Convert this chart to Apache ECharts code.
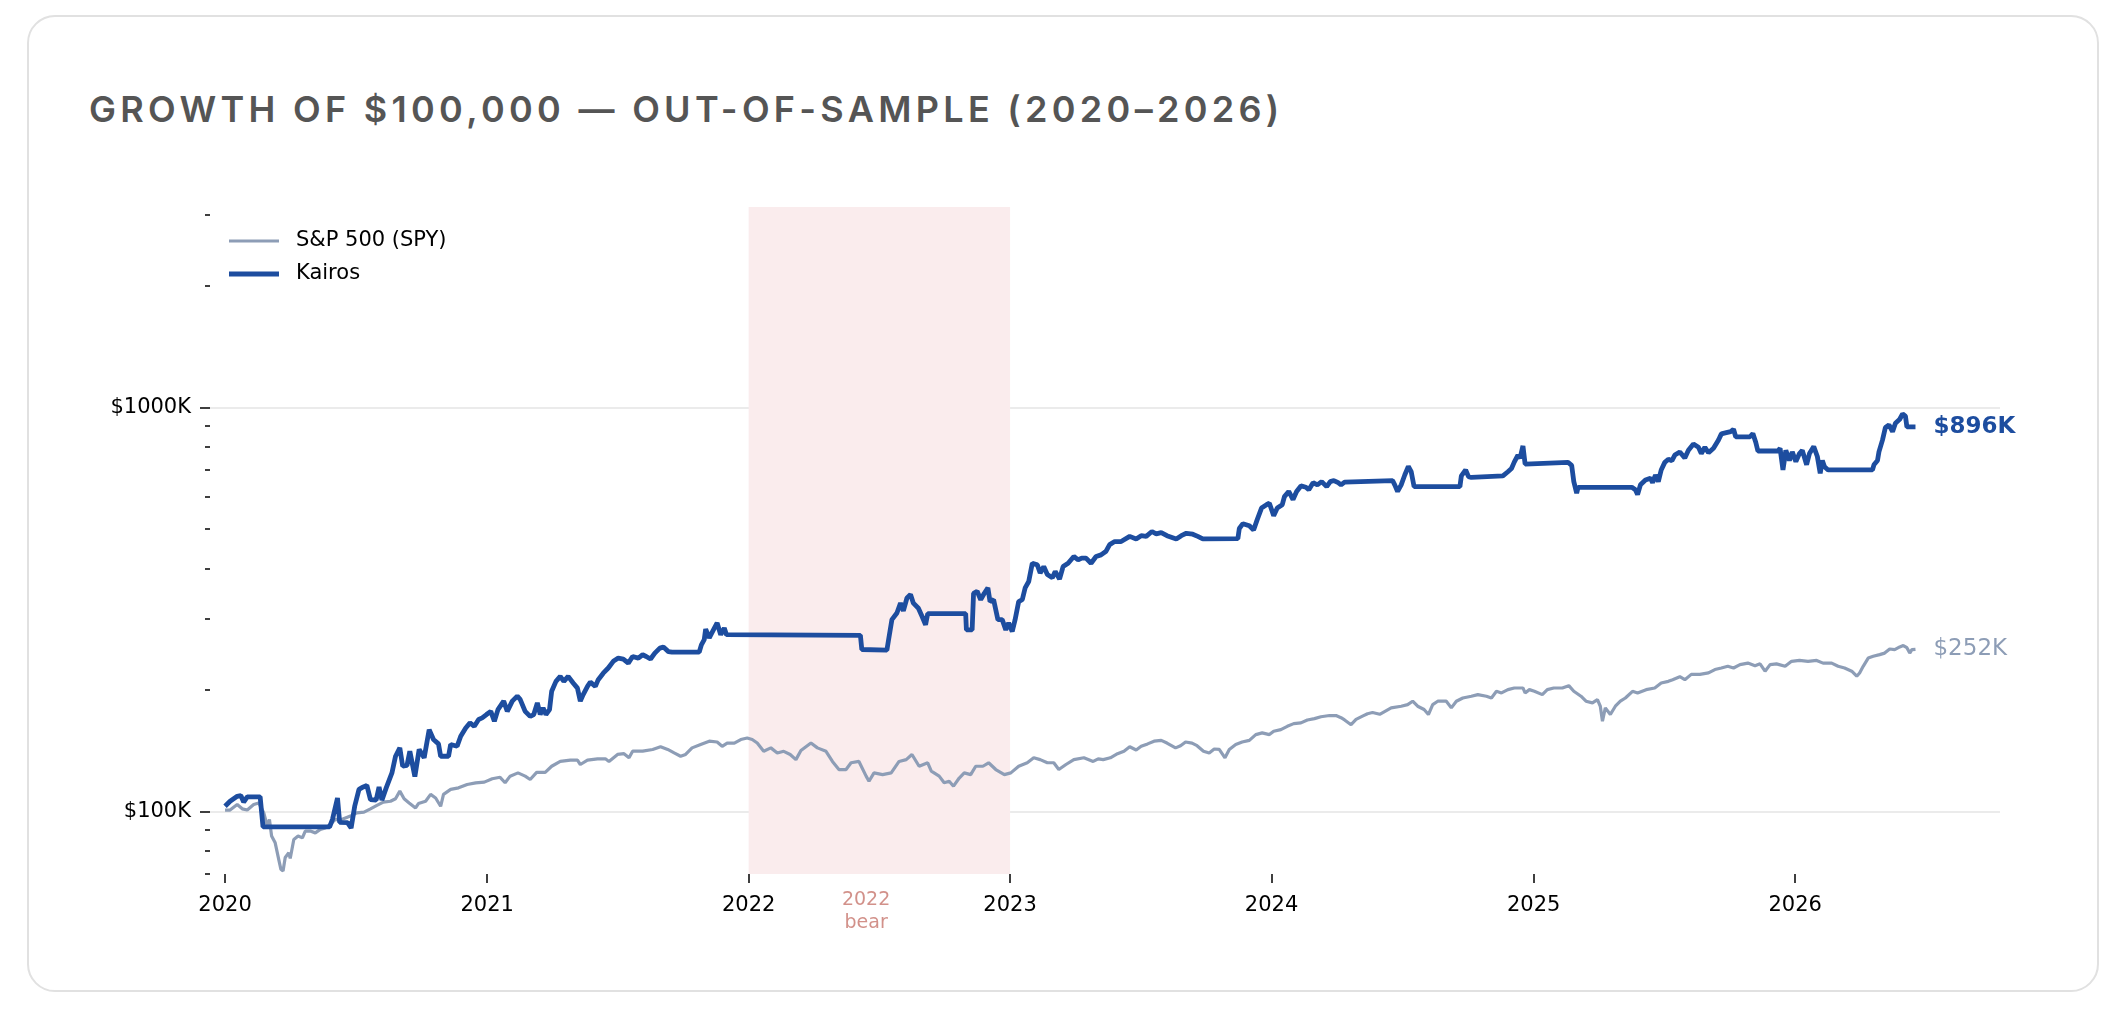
<!DOCTYPE html>
<html>
<head>
<meta charset="utf-8">
<script src="https://cdn.jsdelivr.net/npm/echarts@6/dist/echarts.min.js"></script>
<style>
  html, body { margin: 0; padding: 0; background: #ffffff; width: 2128px; height: 1032px; overflow: hidden; }
  .card { position: absolute; left: 27px; top: 15px; width: 2072px; height: 977px; box-sizing: border-box;
          border: 2px solid #e1e1e1; border-radius: 28px; background: #fff; }
  .title { position: absolute; left: 89px; top: 91px; font-family: Inter, "Noto Sans", sans-serif; font-weight: 600;
           font-size: 36px; line-height: 36px; letter-spacing: 4.3px; color: #555555; white-space: nowrap; }
  #chart { position: absolute; left: 0; top: 0; width: 2128px; height: 1032px; }
</style>
</head>
<body>
<div class="card"></div>
<div class="title">GROWTH OF $100,000 — OUT-OF-SAMPLE (2020–2026)</div>
<div id="chart"></div>
<script>
// ---------- data (values in $K) ----------
const yearTicks = ['2020', '2021', '2022', '2023', '2024', '2025', '2026'];
const yMajorTicks = [100, 1000];
const yMinorTicks = [70, 80, 90, 200, 300, 400, 500, 600, 700, 800, 900, 2000, 3000];
const xRange = ['2019-12-11', '2026-10-14'];
const bearStart = '2022-01-01';
const bearEnd = '2023-01-01';
const bearLabelDate = '2022-06-14';
const bearLabelLines = ['2022', 'bear'];

const kairosDates = [
'2020-01-01','2020-01-08','2020-01-18','2020-01-23','2020-01-27','2020-02-01','2020-02-19','2020-02-23','2020-05-26','2020-05-30',
'2020-06-06','2020-06-09','2020-06-20','2020-06-25','2020-06-30','2020-07-06','2020-07-12','2020-07-17','2020-07-22','2020-07-30',
'2020-08-03','2020-08-07','2020-08-13','2020-08-21','2020-08-26','2020-09-01','2020-09-05','2020-09-11','2020-09-15','2020-09-22',
'2020-09-28','2020-10-05','2020-10-12','2020-10-18','2020-10-25','2020-10-28','2020-11-08','2020-11-11','2020-11-20','2020-11-25',
'2020-12-02','2020-12-08','2020-12-14','2020-12-20','2020-12-25','2020-12-31','2021-01-06','2021-01-11','2021-01-16','2021-01-24',
'2021-01-29','2021-02-05','2021-02-12','2021-02-16','2021-02-23','2021-03-02','2021-03-07','2021-03-12','2021-03-16','2021-03-20',
'2021-03-24','2021-03-29','2021-04-01','2021-04-07','2021-04-13','2021-04-18','2021-04-24','2021-05-01','2021-05-07','2021-05-11',
'2021-05-15','2021-05-21','2021-05-25','2021-06-01','2021-06-05','2021-06-12','2021-06-19','2021-06-26','2021-07-03','2021-07-10',
'2021-07-17','2021-07-23','2021-07-31','2021-08-06','2021-08-11','2021-08-17','2021-08-23','2021-08-30','2021-09-04','2021-09-11',
'2021-09-16','2021-10-24','2021-10-27','2021-10-31','2021-11-02','2021-11-07','2021-11-13','2021-11-18','2021-11-23','2021-11-28',
'2021-12-01','2022-06-06','2022-06-08','2022-07-13','2022-07-15','2022-07-20','2022-07-27','2022-08-01','2022-08-05','2022-08-10',
'2022-08-15','2022-08-19','2022-08-26','2022-08-31','2022-09-05','2022-09-08','2022-10-31','2022-11-01','2022-11-09','2022-11-11',
'2022-11-16','2022-11-21','2022-11-26','2022-12-01','2022-12-04','2022-12-09','2022-12-15','2022-12-21','2022-12-26','2022-12-30',
'2023-01-04','2023-01-08','2023-01-13','2023-01-18','2023-01-22','2023-01-27','2023-02-01','2023-02-08','2023-02-12','2023-02-17',
'2023-02-22','2023-03-01','2023-03-05','2023-03-11','2023-03-16','2023-03-23','2023-03-31','2023-04-06','2023-04-11','2023-04-17',
'2023-04-24','2023-05-01','2023-05-08','2023-05-15','2023-05-20','2023-05-27','2023-06-05','2023-06-17','2023-06-26','2023-07-03',
'2023-07-10','2023-07-18','2023-07-24','2023-07-31','2023-08-08','2023-08-21','2023-08-28','2023-09-04','2023-09-13','2023-09-20',
'2023-09-27','2023-11-15','2023-11-17','2023-11-22','2023-12-01','2023-12-07','2023-12-12','2023-12-18','2023-12-25','2023-12-29',
'2024-01-04','2024-01-09','2024-01-16','2024-01-19','2024-01-25','2024-01-31','2024-02-05','2024-02-11','2024-02-18','2024-02-22',
'2024-02-28','2024-03-05','2024-03-11','2024-03-18','2024-03-23','2024-03-28','2024-04-03','2024-04-07','2024-04-12','2024-06-18',
'2024-06-21','2024-06-25','2024-06-30','2024-07-05','2024-07-10','2024-07-14','2024-07-18','2024-07-20','2024-09-20','2024-09-22',
'2024-09-28','2024-10-02','2024-10-06','2024-11-19','2024-11-26','2024-12-01','2024-12-05','2024-12-10','2024-12-13','2024-12-17',
'2024-12-19','2024-12-20','2025-02-18','2025-02-23','2025-02-26','2025-03-02','2025-03-04','2025-05-18','2025-05-23','2025-05-26',
'2025-05-30','2025-06-06','2025-06-13','2025-06-16','2025-06-20','2025-06-24','2025-06-28','2025-07-03','2025-07-08','2025-07-13',
'2025-07-17','2025-07-24','2025-07-31','2025-08-05','2025-08-12','2025-08-19','2025-08-23','2025-08-28','2025-09-02','2025-09-09',
'2025-09-16','2025-09-20','2025-09-27','2025-10-03','2025-10-07','2025-10-10','2025-10-30','2025-11-03','2025-11-07','2025-11-10',
'2025-12-08','2025-12-11','2025-12-15','2025-12-19','2025-12-24','2025-12-28','2026-01-02','2026-01-07','2026-01-11','2026-01-17',
'2026-01-21','2026-01-27','2026-02-01','2026-02-05','2026-02-08','2026-02-11','2026-02-16','2026-04-19','2026-04-21','2026-04-26',
'2026-04-28','2026-05-03','2026-05-07','2026-05-12','2026-05-17','2026-05-21','2026-05-27','2026-05-31','2026-06-04','2026-06-06',
'2026-06-18'
];
const kairosValues = [
103,106,109,109.5,105.5,108.7,108.7,91.6,91.6,95.6,
108,94,93.8,91,103,113.4,115,116,107,106.7,
115,106.7,114.4,124.6,137,143.7,129.4,130,141,122,
142.4,135.8,159.5,150.7,147,137,137,146.5,145,153.6,
161,165.7,162.5,169,170.5,173.8,177,167.3,178.7,187.6,
177,187.6,193,189.5,177,172,173.8,185.7,173.8,180.5,
173.8,178.7,198.5,210,216,210,216,208,202,187.6,
194.8,204,209,204,212,220,226.6,235.4,239.8,238.5,
233,242,239.8,244.4,242,238.5,246.7,253.8,255.3,248.8,
248,248,258.6,266.4,283,269,282,293,274,284.5,
274,273,251.8,251,263.9,298.5,310,328,314,337.8,
344.5,328,318.7,304.3,290,309,309,281.7,281.7,347,
351,334.5,347,357.7,331,334.5,298.5,298.5,281.7,292.9,
279,298.5,331,334.5,357.7,371,411.7,408,389.4,404,
386,379,393,376,404,411.7,428,420,424,424,
411.7,428,432,441,458,466,466,480,473,482,
480,493.5,487,490.5,482,473,482,488.5,486,480,
473,474,502,516,510,497.7,528,564,575,580,
540,564,575,602,620,592,620,640,635,626,
652,644,656,637.5,656,660,652,644,654,660,
644,620,644,681,715,694,637.5,632,637.5,677.5,
701,675,672,677.5,694,707,734,763,750,804,
804,725,732,720,656,614,635,635,626,609,
644,662,669,652,681,656,701,732,745,739,
763,777,750,784,813,798,770,798,773,793,
832,861,867,872,884,847,847,863,821,781,
781,793,701,784,740,777,735,770,784,722,
770,801,757,688,740,714,701,701,722,740,
777,832,893,906,872,915,936,965,953,896,
896
];

const spyDates = [
'2020-01-01','2020-01-08','2020-01-18','2020-01-25','2020-02-01','2020-02-10','2020-02-17','2020-02-24','2020-02-29','2020-03-03',
'2020-03-06','2020-03-11','2020-03-16','2020-03-19','2020-03-22','2020-03-25','2020-03-30','2020-04-01','2020-04-06','2020-04-12',
'2020-04-18','2020-04-22','2020-04-29','2020-05-06','2020-05-13','2020-05-20','2020-05-27','2020-06-03','2020-06-10','2020-06-24',
'2020-07-03','2020-07-13','2020-07-22','2020-07-31','2020-08-09','2020-08-19','2020-08-26','2020-09-01','2020-09-07','2020-09-14',
'2020-09-23','2020-09-27','2020-10-07','2020-10-14','2020-10-21','2020-10-28','2020-11-01','2020-11-11','2020-11-22','2020-12-04',
'2020-12-16','2020-12-28','2021-01-08','2021-01-19','2021-01-26','2021-02-02','2021-02-13','2021-02-23','2021-03-02','2021-03-11',
'2021-03-23','2021-04-01','2021-04-13','2021-04-27','2021-05-07','2021-05-11','2021-05-21','2021-06-04','2021-06-15','2021-06-20',
'2021-07-02','2021-07-11','2021-07-18','2021-07-23','2021-08-06','2021-08-20','2021-08-31','2021-09-10','2021-09-19','2021-09-28',
'2021-10-05','2021-10-14','2021-10-26','2021-11-07','2021-11-18','2021-11-25','2021-12-02','2021-12-12','2021-12-21','2021-12-30',
'2022-01-06','2022-01-13','2022-01-22','2022-02-01','2022-02-10','2022-02-19','2022-02-28','2022-03-08','2022-03-15','2022-03-29',
'2022-04-07','2022-04-19','2022-04-28','2022-05-07','2022-05-17','2022-05-24','2022-06-04','2022-06-14','2022-06-18','2022-06-25',
'2022-07-07','2022-07-19','2022-07-30','2022-08-09','2022-08-17','2022-08-27','2022-09-08','2022-09-13','2022-09-24','2022-10-01',
'2022-10-08','2022-10-14','2022-10-22','2022-10-29','2022-11-07','2022-11-14','2022-11-24','2022-12-02','2022-12-12','2022-12-24',
'2023-01-02','2023-01-13','2023-01-25','2023-02-03','2023-02-12','2023-02-22','2023-03-03','2023-03-10','2023-03-20','2023-03-31',
'2023-04-14','2023-04-27','2023-05-04','2023-05-11','2023-05-21','2023-05-31','2023-06-09','2023-06-17','2023-06-26','2023-07-03',
'2023-07-12','2023-07-21','2023-07-31','2023-08-08','2023-08-20','2023-08-27','2023-09-03','2023-09-12','2023-09-19','2023-09-28',
'2023-10-06','2023-10-13','2023-10-20','2023-10-28','2023-11-03','2023-11-12','2023-11-21','2023-12-01','2023-12-10','2023-12-19',
'2023-12-29','2024-01-04','2024-01-14','2024-01-23','2024-02-01','2024-02-11','2024-02-20','2024-03-01','2024-03-10','2024-03-22',
'2024-03-31','2024-04-07','2024-04-12','2024-04-21','2024-04-28','2024-05-07','2024-05-14','2024-05-21','2024-05-31','2024-06-16',
'2024-06-30','2024-07-09','2024-07-16','2024-07-23','2024-08-01','2024-08-07','2024-08-13','2024-08-20','2024-09-01','2024-09-08',
'2024-09-15','2024-09-24','2024-10-06','2024-10-15','2024-10-27','2024-11-03','2024-11-10','2024-11-17','2024-11-26','2024-12-05',
'2024-12-17','2024-12-20','2024-12-26','2025-01-02','2025-01-13','2025-01-20','2025-01-29','2025-02-10','2025-02-19','2025-02-26',
'2025-03-08','2025-03-15','2025-03-24','2025-03-31','2025-04-04','2025-04-07','2025-04-11','2025-04-18','2025-04-25','2025-05-02',
'2025-05-09','2025-05-19','2025-05-26','2025-06-07','2025-06-19','2025-06-28','2025-07-08','2025-07-14','2025-07-24','2025-07-31',
'2025-08-09','2025-08-21','2025-09-02','2025-09-11','2025-09-20','2025-09-29','2025-10-07','2025-10-16','2025-10-27','2025-11-06',
'2025-11-13','2025-11-20','2025-11-27','2025-12-06','2025-12-18','2025-12-27','2026-01-07','2026-01-19','2026-01-31','2026-02-09',
'2026-02-21','2026-03-02','2026-03-11','2026-03-21','2026-03-28','2026-04-01','2026-04-06','2026-04-13','2026-04-20','2026-04-29',
'2026-05-06','2026-05-13','2026-05-20','2026-05-27','2026-06-01','2026-06-06','2026-06-10','2026-06-13','2026-06-18'
];
const spyValues = [
100.8,100.8,104,101.5,100.8,104,105,99.3,92,95.5,
86.9,83.6,76,71.9,71.2,76.9,79,76.5,85.2,86.9,
86,89.4,89.4,88.5,90.3,91,92.9,95.6,95.2,97.4,
99.2,99.6,101.5,103.5,105.5,106,107.5,112.3,107.5,105,
102,104.6,106,110.2,108,103,110.2,113.4,114.4,116.6,
117.7,118.2,120.5,121.5,117.8,122.3,124.6,122.3,120,125,
125,129.4,133,134,134,130.7,134,135,135,133,
138.4,139,135.8,141,141,142.4,144.6,142.4,139.6,137,
138.4,143.7,146.5,149.3,148.6,145,147.7,147.7,150.7,152,
150.7,147.7,141,143.7,139.6,140.9,138.4,134.4,141.5,147.7,
143.7,140.9,133,127,127,132,133,122.3,118.8,124.6,
123.4,124.6,133,134.4,138.4,129.4,132,125.8,122.3,117.8,
118.8,115.5,121,124.6,123.4,129.4,129.4,132,127,123.4,
124.6,129.4,132,135.8,134.4,132,132,127,130.7,134.4,
135.8,133,135,134.4,135.8,139,141,144.6,142,145,
147,149.3,150,147.7,143.7,145.5,148.6,147.7,145.5,141,
139.6,142.8,142.4,135.8,142.4,146.5,148.6,150,155,156.5,
155,158,159.5,162.5,165,165.7,168.5,169.8,171.6,172.8,
172.8,170.7,168.5,164,169,172.2,174.6,175.8,174,180.5,
182.2,183.9,187.5,182.2,178.8,173.8,183.9,187.5,187.5,180.5,
187.5,191,192.9,194.7,192.9,191,198.4,196.6,200.3,202.2,
202.2,196.6,200.3,198.4,194.7,200.3,202.2,202.2,204.9,198.4,
192.9,187.5,185.7,189.2,182.2,167.3,180.5,173.8,182.2,187.5,
191,198.4,196.6,200.3,202.2,208,210,212,215.6,212,
218.5,218.5,220.3,224.6,226.6,228.8,226.6,231,233,229.6,
232,222.5,231,232,228.8,235.4,236.6,235.4,236.6,233,
233,228.8,226.6,222.5,216.2,220.3,228.8,239.8,242.2,244.6,
246.7,252.5,251.6,255.5,257.6,254.5,246.7,251.6,252
];

// ---------- styling ----------
const KAIROS = '#1d4d9f';
const SPY = '#8d9db6';
const BEAR_TEXT = '#c7756d';
const BAND = '#faeced';
const FONT = 'DejaVu Sans';

// date string -> timestamp (UTC) for the value-type date axis
const ts = s => { const p = s.split('-').map(Number); return Date.UTC(p[0], p[1] - 1, p[2]); };
const zip = (ds, vs) => ds.map((d, i) => [ts(d), vs[i]]);
const fmtK = v => '$' + Math.round(v) + 'K';
const yearTs = yearTicks.map(y => ts(y + '-01-01'));

const chart = echarts.init(document.getElementById('chart'), null, { renderer: 'canvas' });

const yBase = { type: 'log', logBase: 10, min: 70, max: 3140, axisLine: { show: false } };

chart.setOption({
  animation: false,
  backgroundColor: 'transparent',
  textStyle: { fontFamily: FONT },
  grid: { left: 210, right: 128, top: 207, bottom: 158, containLabel: false },
  legend: {
    data: [
      { name: 'S&P 500 (SPY)', icon: 'path://M0,0H50V3H0Z' },
      { name: 'Kairos', icon: 'path://M0,0H50V4.8H0Z' }
    ],
    orient: 'vertical', left: 224, top: 224,
    itemWidth: 50, itemHeight: 14, itemGap: 9,
    textStyle: { fontFamily: FONT, fontSize: 21, color: '#000', lineHeight: 24, padding: [0, 0, 0, 12] },
    selectedMode: false
  },
  xAxis: {
    type: 'value',
    min: ts(xRange[0]), max: ts(xRange[1]),
    axisLine: { show: false },
    axisTick: { show: true, length: 9, lineStyle: { color: '#000', width: 1.5 }, customValues: yearTs },
    axisLabel: { customValues: yearTs,
                 formatter: v => String(new Date(v).getUTCFullYear()),
                 fontSize: 21, color: '#000', fontFamily: FONT, margin: 21 },
    splitLine: { show: false }
  },
  yAxis: [
    Object.assign({}, yBase, {
      axisTick: { show: true, length: 10, lineStyle: { color: '#000', width: 1.5 }, customValues: yMajorTicks },
      axisLabel: { customValues: yMajorTicks, formatter: fmtK, fontSize: 21, color: '#000', fontFamily: FONT, margin: 19 },
      splitLine: { show: true, lineStyle: { color: '#e4e4e4', width: 1.5 } }
    }),
    Object.assign({}, yBase, {
      position: 'left',
      axisTick: { show: true, length: 5, lineStyle: { color: '#000', width: 1.5 }, customValues: yMinorTicks },
      axisLabel: { show: false },
      splitLine: { show: false }
    })
  ],
  series: [
    {
      name: 'bear', type: 'scatter', z: 1, clip: false, silent: true,
      data: [[ts(bearLabelDate), 70]],
      symbolSize: 1, itemStyle: { color: 'rgba(0,0,0,0)' },
      label: { show: true, position: 'bottom', distance: 14, formatter: bearLabelLines.join('\n'),
               color: BEAR_TEXT, fontSize: 19, lineHeight: 23, fontFamily: FONT, align: 'center' },
      markArea: {
        silent: true,
        itemStyle: { color: BAND, opacity: 1, borderWidth: 0 },
        data: [[{ xAxis: ts(bearStart) }, { xAxis: ts(bearEnd) }]]
      }
    },
    {
      name: 'S&P 500 (SPY)', type: 'line', z: 3,
      data: zip(spyDates, spyValues),
      symbol: 'none', showSymbol: false,
      lineStyle: { color: SPY, width: 3.2 }, itemStyle: { color: SPY },
      endLabel: { show: true, formatter: p => fmtK(p.value[1]), color: SPY, fontSize: 23, fontFamily: FONT, distance: 18 }
    },
    {
      name: 'Kairos', type: 'line', z: 4,
      data: zip(kairosDates, kairosValues),
      symbol: 'none', showSymbol: false,
      lineStyle: { color: KAIROS, width: 4.8 }, itemStyle: { color: KAIROS },
      endLabel: { show: true, formatter: p => fmtK(p.value[1]), color: KAIROS, fontSize: 23, fontWeight: 'bold', fontFamily: FONT, distance: 18 }
    }
  ]
});
</script>
</body>
</html>
